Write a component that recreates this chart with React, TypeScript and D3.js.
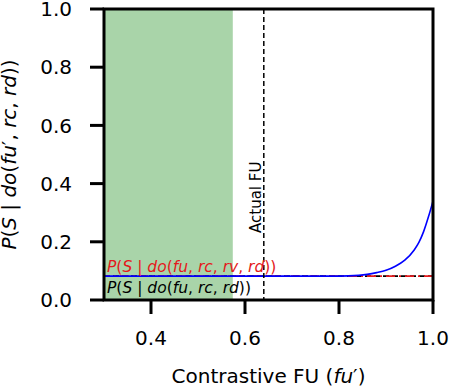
import React from 'react'
import * as d3 from 'd3'

// contrastive fu' grid and the estimated probability of success
const fuValues = [0.30, 0.40, 0.50, 0.60, 0.70, 0.78, 0.82, 0.86, 0.88, 0.90, 0.92, 0.94, 0.96, 0.97, 0.98, 0.99, 1.00]
const pValues = [0.082, 0.082, 0.082, 0.082, 0.082, 0.082, 0.083, 0.088, 0.094, 0.102, 0.116, 0.137, 0.172, 0.198, 0.235, 0.284, 0.340]

const baseWithRv = 0.082
const baseNoRv = 0.082
const actualFu = 0.64
const spanRange = [0.3, 0.574]

const xTicks = [0.4, 0.6, 0.8, 1.0]
const yTicks = [0.0, 0.2, 0.4, 0.6, 0.8, 1.0]

const FONT = 'DejaVu Sans, sans-serif'

// small mathtext-ish helper: letters italic, punctuation upright
function MathText({ s, ...rest }: any) {
  const parts = s.split(/([A-Za-z]+)/).filter((p: string) => p !== '')
  return (
    <text {...rest}>
      {parts.map((p: string, i: number) => (
        <tspan key={i} fontStyle={/[A-Za-z]/.test(p) ? 'italic' : 'normal'}>{p}</tspan>
      ))}
    </text>
  )
}

export default function App() {
  const W = 450
  const H = 390
  const margin = { top: 9, right: 17, bottom: 90, left: 104 }
  const width = W - margin.left - margin.right
  const height = H - margin.top - margin.bottom

  const x = d3.scaleLinear().domain([0.3, 1.0]).range([0, width])
  const y = d3.scaleLinear().domain([0, 1]).range([height, 0])

  const line = d3.line<number>()
    .x((d, i) => x(fuValues[i]))
    .y(d => y(d))
    .curve(d3.curveMonotoneX)

  return (
    <svg width={W} height={H} style={{ position: 'absolute', left: 0, top: 0 }} fontFamily={FONT}>
      <defs>
        <clipPath id='plot'>
          <rect x={0} y={0} width={width} height={height} />
        </clipPath>
      </defs>
      <g transform={`translate(${margin.left},${margin.top})`}>
        {/* shaded span */}
        <rect x={x(spanRange[0])} y={0} width={x(spanRange[1]) - x(spanRange[0])} height={height} fill='#a9d4a9' />

        <g clipPath='url(#plot)'>
          <line x1={0} x2={width} y1={y(baseNoRv)} y2={y(baseNoRv)} stroke='#000' strokeWidth={1.6} strokeDasharray='6,3' />
          <line x1={0} x2={width} y1={y(baseWithRv)} y2={y(baseWithRv)} stroke='#e41a1c' strokeWidth={1.6} strokeDasharray='9,4,2,4' strokeDashoffset={3} />
          <path d={line(pValues) || ''} fill='none' stroke='#0000ff' strokeWidth={1.6} />
        </g>

        {/* actual fu */}
        <line x1={x(actualFu)} x2={x(actualFu)} y1={0} y2={height} stroke='#000' strokeWidth={1.5} strokeDasharray='5,3' />
        <text transform={`translate(${x(actualFu) - 3},${224}) rotate(-90)`} fontSize={15} fill='#000'>Actual FU</text>

        <MathText s='P(S | do(fu, rc, rv, rd))' x={3} y={263} fontSize={15.5} fill='#e41a1c' />
        <MathText s='P(S | do(fu, rc, rd))' x={3} y={284} fontSize={15.5} fill='#000' />

        {/* spines */}
        <rect x={0} y={0} width={width} height={height} fill='none' stroke='#000' strokeWidth={3} />

        {/* x axis */}
        {xTicks.map(t => (
          <g key={`x${t}`} transform={`translate(${x(t)},${height})`}>
            <line y1={0} y2={14} stroke='#000' strokeWidth={3} />
            <text y={45} textAnchor='middle' fontSize={20}>{t.toFixed(1)}</text>
          </g>
        ))}
        {/* y axis */}
        {yTicks.map(t => (
          <g key={`y${t}`} transform={`translate(0,${y(t)})`}>
            <line x1={0} x2={-14} stroke='#000' strokeWidth={3} />
            <text x={-32} dy='0.36em' textAnchor='end' fontSize={20}>{t.toFixed(1)}</text>
          </g>
        ))}

        <text x={x(0.65)} y={height + 83} textAnchor='middle' fontSize={20}>
          Contrastive FU (<tspan fontStyle='italic'>fu</tspan>′)
        </text>
        <text transform={`translate(${-88},${height / 2}) rotate(-90)`} textAnchor='middle' fontSize={20}>
          <tspan fontStyle='italic'>P</tspan>(<tspan fontStyle='italic'>S</tspan> | <tspan fontStyle='italic'>do</tspan>(<tspan fontStyle='italic'>fu</tspan>′, <tspan fontStyle='italic'>rc</tspan>, <tspan fontStyle='italic'>rd</tspan>))
        </text>
      </g>
    </svg>
  )
}
